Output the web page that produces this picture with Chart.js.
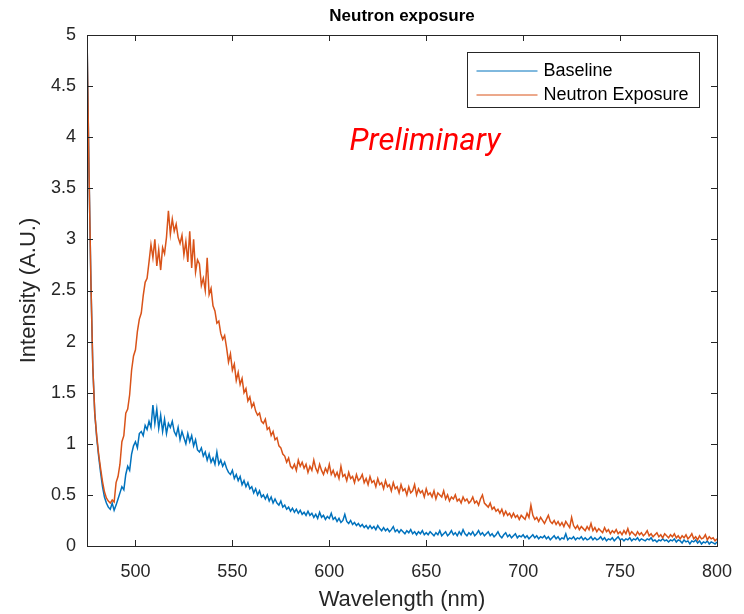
<!DOCTYPE html>
<html>
<head>
<meta charset="utf-8">
<title>Neutron exposure</title>
<script src="https://cdn.jsdelivr.net/npm/chart.js@4.4.1/dist/chart.umd.min.js"></script>
<style>
  html, body { margin: 0; padding: 0; background: #fff; }
  #wrap { width: 744px; height: 614px; }
</style>
</head>
<body>
<div id="wrap"><canvas id="chart"></canvas></div>
<script>
// Spectra sampled every 1 nm from 475 to 800 nm
const wlStart = 475;
const wlStep = 1;

const xTicks = [500, 550, 600, 650, 700, 750, 800];
const yTicks = [0, 0.5, 1, 1.5, 2, 2.5, 3, 3.5, 4, 4.5, 5];
const yTickLabels = ['0', '0.5', '1', '1.5', '2', '2.5', '3', '3.5', '4', '4.5', '5'];

const seriesNames = ['Baseline', 'Neutron Exposure'];

const baseline = [
  5.00, 3.70, 2.60, 1.75, 1.30, 1.06, 0.88, 0.72, 0.58, 0.48,
  0.42, 0.38, 0.36, 0.42, 0.35, 0.40, 0.46, 0.52, 0.58, 0.55,
  0.70, 0.78, 0.74, 0.90, 0.98, 1.02, 0.96, 1.10, 1.12, 1.08,
  1.18, 1.14, 1.22, 1.16, 1.38, 1.20, 1.34, 1.15, 1.28, 1.12,
  1.24, 1.10, 1.20, 1.16, 1.22, 1.12, 1.08, 1.16, 1.04, 1.12,
  1.06, 1.00, 1.10, 1.02, 1.08, 0.98, 1.04, 0.94, 0.92, 0.96,
  0.88, 0.92, 0.84, 0.90, 0.82, 0.86, 0.80, 0.92, 0.80, 0.84,
  0.78, 0.82, 0.76, 0.72, 0.70, 0.74, 0.66, 0.70, 0.64, 0.68,
  0.60, 0.64, 0.58, 0.62, 0.56, 0.58, 0.52, 0.56, 0.50, 0.54,
  0.48, 0.50, 0.46, 0.50, 0.44, 0.48, 0.42, 0.46, 0.42, 0.40,
  0.44, 0.38, 0.40, 0.36, 0.38, 0.34, 0.37, 0.33, 0.36, 0.32,
  0.35, 0.31, 0.33, 0.30, 0.34, 0.30, 0.32, 0.28, 0.31, 0.27,
  0.33, 0.28, 0.30, 0.26, 0.29, 0.27, 0.32, 0.26, 0.28, 0.24,
  0.27, 0.23, 0.25, 0.31, 0.24, 0.22, 0.25, 0.21, 0.23, 0.20,
  0.22, 0.19, 0.21, 0.18, 0.20, 0.17, 0.20, 0.17, 0.19, 0.16,
  0.20, 0.17, 0.15, 0.18, 0.15, 0.17, 0.14, 0.16, 0.19, 0.14,
  0.16, 0.13, 0.16, 0.14, 0.12, 0.15, 0.13, 0.16, 0.12, 0.14,
  0.11, 0.14, 0.12, 0.15, 0.11, 0.13, 0.11, 0.14, 0.12, 0.10,
  0.13, 0.11, 0.15, 0.10, 0.12, 0.14, 0.10, 0.12, 0.15, 0.11,
  0.13, 0.10, 0.14, 0.11, 0.16, 0.12, 0.10, 0.13, 0.11, 0.14,
  0.10, 0.12, 0.15, 0.11, 0.13, 0.10, 0.12, 0.14, 0.10, 0.12,
  0.09, 0.11, 0.14, 0.10, 0.08, 0.11, 0.13, 0.09, 0.11, 0.08,
  0.10, 0.12, 0.08, 0.10, 0.09, 0.11, 0.08, 0.10, 0.07, 0.09,
  0.11, 0.08, 0.10, 0.07, 0.09, 0.08, 0.10, 0.07, 0.09, 0.06,
  0.08, 0.10, 0.07, 0.09, 0.06, 0.08, 0.07, 0.12, 0.06, 0.08,
  0.07, 0.09, 0.06, 0.08, 0.07, 0.09, 0.06, 0.08, 0.06, 0.07,
  0.09, 0.06, 0.08, 0.06, 0.07, 0.09, 0.06, 0.08, 0.05, 0.07,
  0.06, 0.08, 0.05, 0.07, 0.09, 0.06, 0.07, 0.05, 0.07, 0.06,
  0.08, 0.05, 0.07, 0.06, 0.08, 0.05, 0.07, 0.06, 0.05, 0.07,
  0.06, 0.08, 0.05, 0.06, 0.04, 0.06, 0.05, 0.07, 0.05, 0.06,
  0.04, 0.06, 0.05, 0.07, 0.04, 0.06, 0.05, 0.03, 0.06, 0.04,
  0.05, 0.02, 0.05, 0.04, 0.06, 0.03, 0.05, 0.02, 0.04, 0.03,
  0.05, 0.02, 0.04, 0.03, 0.02, 0.04
];

const neutron = [
  5.00, 3.70, 2.60, 1.75, 1.30, 1.08, 0.90, 0.76, 0.63, 0.53,
  0.47, 0.44, 0.42, 0.45, 0.43, 0.62, 0.68, 0.80, 1.02, 1.08,
  1.30, 1.34, 1.48, 1.72, 1.86, 1.92, 2.10, 2.22, 2.28, 2.45,
  2.58, 2.62, 2.78, 2.95, 2.82, 3.00, 2.74, 2.90, 2.70, 2.92,
  2.86, 3.02, 3.28, 3.05, 3.20, 3.08, 3.15, 3.02, 2.96, 3.04,
  2.85, 2.98, 2.78, 3.08, 2.72, 3.00, 2.68, 2.80, 2.76, 2.55,
  2.62, 2.50, 2.82, 2.46, 2.52, 2.35, 2.30, 2.18, 2.20, 2.08,
  2.02, 2.06, 1.94, 1.80, 1.88, 1.72, 1.78, 1.62, 1.70, 1.58,
  1.64, 1.50, 1.54, 1.42, 1.46, 1.36, 1.40, 1.32, 1.28, 1.30,
  1.22, 1.20, 1.24, 1.14, 1.16, 1.08, 1.12, 1.04, 1.06, 0.98,
  0.96, 0.90, 0.88, 0.82, 0.86, 0.78, 0.76, 0.80, 0.74, 0.84,
  0.78, 0.82, 0.76, 0.80, 0.72, 0.78, 0.74, 0.84, 0.76, 0.72,
  0.80, 0.74, 0.70, 0.76, 0.72, 0.80, 0.70, 0.74, 0.68, 0.72,
  0.66, 0.78, 0.68, 0.70, 0.64, 0.72, 0.66, 0.68, 0.62, 0.70,
  0.64, 0.66, 0.70, 0.62, 0.66, 0.60, 0.68, 0.62, 0.64, 0.58,
  0.66, 0.60, 0.62, 0.56, 0.64, 0.58, 0.60, 0.54, 0.62, 0.56,
  0.58, 0.52, 0.60, 0.54, 0.56, 0.50, 0.58, 0.52, 0.54, 0.60,
  0.50, 0.56, 0.52, 0.54, 0.48, 0.56, 0.50, 0.52, 0.48, 0.54,
  0.46, 0.52, 0.50, 0.48, 0.54, 0.46, 0.50, 0.44, 0.48, 0.46,
  0.50, 0.44, 0.46, 0.42, 0.48, 0.44, 0.46, 0.42, 0.44, 0.48,
  0.42, 0.44, 0.40, 0.46, 0.50, 0.42, 0.40, 0.38, 0.42, 0.36,
  0.38, 0.34, 0.36, 0.32, 0.36, 0.30, 0.34, 0.30, 0.32, 0.28,
  0.32, 0.28, 0.30, 0.26, 0.30, 0.28, 0.26, 0.32, 0.28, 0.40,
  0.30, 0.26, 0.28, 0.24, 0.28, 0.25, 0.22, 0.26, 0.30, 0.24,
  0.22, 0.25, 0.21, 0.24, 0.20, 0.23, 0.19, 0.24, 0.21, 0.18,
  0.28, 0.20, 0.17, 0.20, 0.16, 0.19, 0.17, 0.15, 0.19, 0.16,
  0.22, 0.15, 0.18, 0.14, 0.17, 0.15, 0.13, 0.18, 0.14, 0.16,
  0.12, 0.15, 0.13, 0.16, 0.12, 0.14, 0.11, 0.15, 0.12, 0.17,
  0.11, 0.14, 0.12, 0.10, 0.14, 0.11, 0.13, 0.10, 0.12, 0.15,
  0.10, 0.12, 0.09, 0.11, 0.13, 0.09, 0.11, 0.08, 0.12, 0.10,
  0.08, 0.11, 0.09, 0.12, 0.08, 0.10, 0.07, 0.10, 0.08, 0.11,
  0.07, 0.09, 0.12, 0.07, 0.09, 0.06, 0.10, 0.07, 0.08, 0.11,
  0.06, 0.09, 0.07, 0.08, 0.05, 0.07
];

const colors = ['#0072BD', '#D95319'];
const axisColor = '#262626';
const sansFamily = '"Liberation Sans", Arial, sans-serif';

function toPoints(values) {
  return values.map((v, i) => ({ x: wlStart + i * wlStep, y: v }));
}

// box, inward ticks on all four sides, title, legend and watermark text
const matlabFrame = {
  id: 'matlabFrame',
  afterDraw(chart) {
    const { ctx, chartArea: a, scales } = chart;
    const tl = 6;
    ctx.save();
    ctx.strokeStyle = axisColor;
    ctx.lineWidth = 1;
    ctx.beginPath();
    xTicks.forEach(v => {
      const px = Math.round(scales.x.getPixelForValue(v)) + 0.5;
      ctx.moveTo(px, a.bottom); ctx.lineTo(px, a.bottom - tl);
      ctx.moveTo(px, a.top); ctx.lineTo(px, a.top + tl);
    });
    yTicks.forEach(v => {
      const py = Math.round(scales.y.getPixelForValue(v)) + 0.5;
      ctx.moveTo(a.left, py); ctx.lineTo(a.left + tl, py);
      ctx.moveTo(a.right, py); ctx.lineTo(a.right - tl, py);
    });
    ctx.stroke();
    ctx.strokeRect(Math.round(a.left) + 0.5, Math.round(a.top) + 0.5,
      Math.round(a.right - a.left), Math.round(a.bottom - a.top));

    // title, centred over the axes
    ctx.fillStyle = '#000';
    ctx.font = 'bold 17px ' + sansFamily;
    ctx.textAlign = 'center';
    ctx.textBaseline = 'middle';
    ctx.fillText('Neutron exposure', (a.left + a.right) / 2, a.top - 19);

    // legend
    const lw = 232, lh = 55;
    const lx = Math.round(a.right - 18 - lw) + 0.5;
    const ly = Math.round(a.top + 17) + 0.5;
    ctx.fillStyle = '#fff';
    ctx.fillRect(lx, ly, lw, lh);
    ctx.strokeStyle = axisColor;
    ctx.strokeRect(lx, ly, lw, lh);
    ctx.font = '18px ' + sansFamily;
    ctx.textAlign = 'left';
    seriesNames.forEach((name, i) => {
      const ry = ly + 18.5 + i * 24;
      ctx.strokeStyle = colors[i];
      ctx.lineWidth = 1;
      ctx.beginPath();
      ctx.moveTo(lx + 9, ry); ctx.lineTo(lx + 70, ry);
      ctx.stroke();
      ctx.fillStyle = '#000';
      ctx.fillText(name, lx + 76, ry);
    });

    ctx.fillStyle = '#ff0000';
    ctx.font = 'italic 31px Roboto, "Noto Sans", sans-serif';
    ctx.textAlign = 'center';
    ctx.fillText('Preliminary', a.left + 338, a.top + 107);
    ctx.restore();
  }
};

const tickFont = { family: sansFamily, size: 18 };
const labelFont = { family: sansFamily, size: 22 };

new Chart(document.getElementById('chart'), {
  type: 'line',
  data: {
    datasets: [
      {
        label: seriesNames[1],
        data: toPoints(neutron),
        borderColor: colors[1],
        borderWidth: 1.5,
        pointRadius: 0,
        tension: 0
      },
      {
        label: seriesNames[0],
        data: toPoints(baseline),
        borderColor: colors[0],
        borderWidth: 1.5,
        pointRadius: 0,
        tension: 0
      }
    ]
  },
  options: {
    responsive: true,
    maintainAspectRatio: false,
    animation: false,
    parsing: false,
    layout: { padding: { left: 0, right: 27, top: 35, bottom: 0 } },
    scales: {
      x: {
        type: 'linear',
        min: 475,
        max: 800,
        afterBuildTicks: s => { s.ticks = xTicks.map(v => ({ value: v })); },
        afterFit: s => { s.height = 68; s.paddingLeft = 0; s.paddingRight = 0; },
        grid: { display: false, drawTicks: false },
        border: { display: false },
        ticks: { color: axisColor, font: tickFont, padding: 15, maxRotation: 0 },
        title: {
          display: true,
          text: 'Wavelength (nm)',
          color: axisColor,
          font: labelFont,
          padding: { top: 0, bottom: 1 }
        }
      },
      y: {
        min: 0,
        max: 5,
        afterBuildTicks: s => { s.ticks = yTicks.map(v => ({ value: v })); },
        afterFit: s => { s.width = 87; s.paddingTop = 0; s.paddingBottom = 0; },
        grid: { display: false, drawTicks: false },
        border: { display: false },
        ticks: {
          color: axisColor,
          font: tickFont,
          padding: 11,
          callback: v => yTickLabels[yTicks.indexOf(v)]
        },
        title: {
          display: true,
          text: 'Intensity (A.U.)',
          color: axisColor,
          font: labelFont,
          padding: { top: 16, bottom: 0 }
        }
      }
    },
    plugins: {
      legend: { display: false },
      tooltip: { enabled: false },
      title: { display: false }
    }
  },
  plugins: [matlabFrame]
});
</script>
</body>
</html>
